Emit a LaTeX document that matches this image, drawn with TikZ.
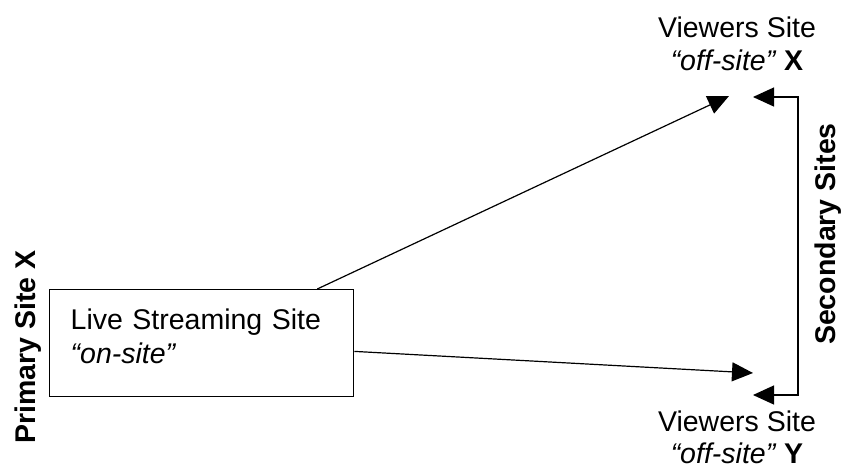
\documentclass[tikz,border=0pt]{standalone}
\usepackage{fontspec}
\setmainfont{Liberation Sans}
\usepackage{tikz}
\usetikzlibrary{arrows.meta}

\begin{document}
\begin{tikzpicture}[x=1pt, y=-1pt]
        \useasboundingbox (0,0) rectangle (844,469);

        \begin{scope}[every node/.style = {inner sep=0pt, font=\fontsize{28.5}{33}\selectfont}]
            \node (live) [draw, line width=1.4pt, anchor=north west, minimum width=304pt,
                minimum height=107pt, text width=262pt, align=left, text depth=49pt,
                font=\fontsize{28.5}{34}\selectfont] at (49, 289)
                {Live Streaming Site\\ \textit{``on-site''}};
            \node (viewx) [anchor=north, align=center] at (737, 16.6)
                {Viewers Site\\ \textit{``off-site''} \textbf{X}};
            \node (viewy) [anchor=north, align=center, font=\fontsize{28.5}{32}\selectfont] at (737, 411)
                {Viewers Site\\ \textit{``off-site''} \textbf{Y}};
            \node (primary) [rotate=90, anchor=base] at (35, 347)   {\textbf{Primary Site X}};
            \node (secondary) [rotate=90, anchor=base] at (835, 234) {\textbf{Secondary Sites}};
        \end{scope}

        % arrow ends
        \coordinate (tipx) at (729, 96);
        \coordinate (tipy) at (753, 373);
        \coordinate (secx) at (753, 97);
        \coordinate (secy) at (753, 395);
        \coordinate (barx) at (798, 97);
        \coordinate (bary) at (798, 395);

        \begin{scope}[>={Triangle[length=21pt, width=19pt]}, line width=1.2pt]
                \path (live) edge[->] (tipx);
                \path (live) edge[->] (tipy);
                \draw[<->] (secx) -- (barx) -- (bary) -- (secy);
        \end{scope}
    \end{tikzpicture}
\end{document}
